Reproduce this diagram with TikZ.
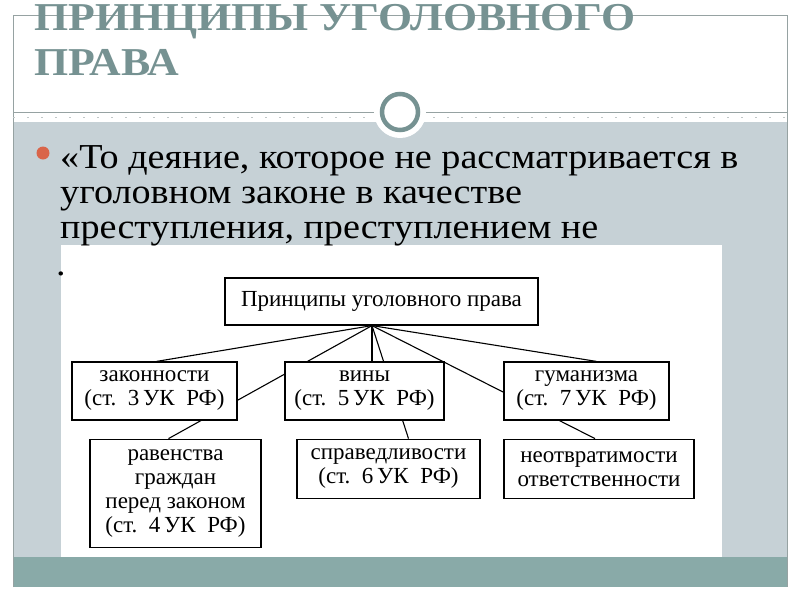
\documentclass[tikz,border=0pt]{standalone}
\usepackage{fontspec}
\setmainfont{Liberation Serif}
\newfontfamily\titlefont[FakeStretch=1.11]{Liberation Serif}
\newfontfamily\quotefont[FakeStretch=1.09]{Liberation Serif}
\usepackage{xcolor}
\usepackage{tikz}
\usetikzlibrary{positioning}

\definecolor{slidegray}{RGB}{198,209,214}
\definecolor{bandteal}{RGB}{137,170,168}
\definecolor{titleteal}{RGB}{118,146,146}
\definecolor{framegray}{RGB}{150,162,162}
\definecolor{bulletred}{RGB}{217,101,74}

\pgfdeclarelayer{back}
\pgfdeclarelayer{links}
\pgfsetlayers{back,links,main}

\begin{document}
\begin{tikzpicture}[
    x=1pt, y=-1pt,
    heading/.style={anchor=base west, inner sep=0pt, text=titleteal,
                    font=\titlefont\fontsize{39.5}{44}\selectfont\bfseries},
    bodyline/.style={anchor=base west, inner sep=0pt, font=\quotefont\fontsize{35}{35}\selectfont},
    box/.style={draw, fill=white, line width=1.2pt, align=center, inner sep=0pt,
                font=\fontsize{23}{24}\selectfont},
    link/.style={line width=1.1pt},
    node distance=18pt
]
\useasboundingbox (0,0) rectangle (800,600);
\begin{pgfonlayer}{back}
\fill[white] (0,0) rectangle (800,600);
\fill[slidegray] (13,122) rectangle (787,587);
\fill[bandteal] (13,557) rectangle (787,587);
\draw[framegray, line width=1pt] (13,587) -- (13,15) -- (787,15) -- (787,587);
\draw[framegray, line width=1pt] (13,112) -- (787,112);
\draw[framegray!60, line width=0.8pt, dash pattern=on 2pt off 12pt] (13,117) -- (787,117);
\fill[white] (400,112) circle (26);
\draw[titleteal, line width=4.5pt] (400,112) circle (18);
\fill[white] (61,245) rectangle (722,557);
\fill[bulletred] (43,153) circle (6.5);
\end{pgfonlayer}

\node[heading] (title1) at (34,30) {ПРИНЦИПЫ УГОЛОВНОГО};
\node[heading] (title2) at (34,75) {ПРАВА};

\node[bodyline] (quote1) at (60,168) {«То деяние, которое не рассматривается в};
\node[bodyline] (quote2) at (60,203) {уголовном законе в качестве};
\node[bodyline] (quote3) at (60,238) {преступления, преступлением не};
\node[bodyline] (quote4) at (56,275) {.};

\node[box, minimum width=313pt, minimum height=47pt] (princ) at (381.5,301.5) {Принципы уголовного права};
\node[box, minimum width=165pt, minimum height=58pt] (zak) at (154.5,391) {законности\\(ст.~~3\,УК~~РФ)};
\node[box, minimum width=159pt, minimum height=58pt] (vin) at (364.5,391) {вины\\(ст.~~5\,УК~~РФ)};
\node[box, minimum width=165pt, minimum height=58pt] (gum) at (586.5,391) {гуманизма\\(ст.~~7\,УК~~РФ)};
\node[box, minimum width=171pt, minimum height=108pt, below=of zak, xshift=21pt] (rav) {равенства\\граждан\\перед законом\\(ст.~~4\,УК~~РФ)};
\node[box, minimum width=183pt, minimum height=59pt, below=of vin, xshift=24pt] (spr) {справедливости\\(ст.~~6\,УК~~РФ)};
\node[box, minimum width=190pt, minimum height=59pt, below=of gum, xshift=12.5pt] (neo) {неотвратимости\\ответственности};

\begin{pgfonlayer}{links}
\coordinate (apex) at ([xshift=-9.5pt]princ.south);
\draw[link] (apex) -- ([xshift=2pt]zak.north);
\draw[link] (apex) -- (apex |- vin.north);
\draw[link] (apex) -- ([xshift=10pt]gum.north);
\draw[link] (apex) -- ([xshift=-7pt]rav.north);
\draw[link] (apex) -- ([xshift=20pt]spr.north);
\draw[link] (apex) -- ([xshift=-4pt]neo.north);
\end{pgfonlayer}
\end{tikzpicture}
\end{document}
